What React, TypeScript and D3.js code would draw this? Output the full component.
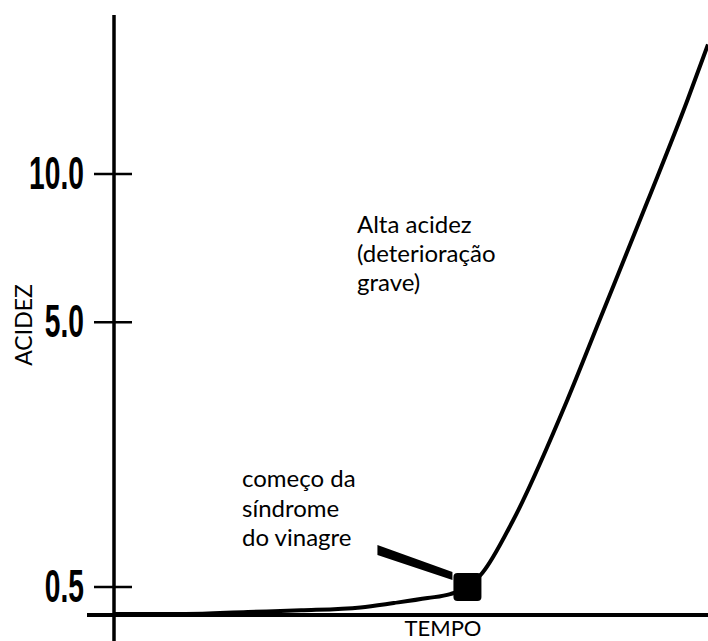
import React from "react";
import * as d3 from "d3";

// curve (time is arbitrary, 0..100 across the plot)
const time = [0, 12, 22.5, 31.5, 41.5, 47.1, 52.8, 56.6, 59.5, 62, 67.2, 76.3, 81.6, 89.9, 96.5, 100];
const acidity = [0.32, 0.32, 0.332, 0.342, 0.36, 0.388, 0.421, 0.449, 0.5, 0.612, 1.15, 3.12, 5.0, 8.98, 13.2, 16.0];

const yTicks = [0.5, 5, 10];
const yTickLabels = ["0.5", "5.0", "10.0"];

// onset of the vinegar syndrome
const onset = { time: 59.5, acidity: 0.5 };

const width = 708;
const height = 641;
const originX = 114;
const originY = 614;

const App = () => {
  const x = d3.scaleLinear().domain([0, 100]).range([originX, width]);
  const y = d3.scalePow().exponent(0.44).domain([0.32, 10]).range([originY, 174]);

  const points = time.map((t, i) => [t, acidity[i]] as [number, number]);
  const line = d3
    .line<[number, number]>()
    .x((d) => x(d[0]))
    .y((d) => y(d[1]))
    .curve(d3.curveMonotoneX);

  const sx = x(onset.time);
  const sy = y(onset.acidity);

  // wedge pointing at the marker
  const wedge = [
    [sx - 90, sy - 42],
    [sx - 90, sy - 32],
    [sx - 15, sy - 7],
    [sx - 15, sy - 15],
  ]
    .map((p) => p.join(","))
    .join(" ");

  const textFont = "Lato, 'Open Sans', sans-serif";

  return (
    <svg
      width={width}
      height={height}
      style={{ position: "absolute", left: 0, top: 0, background: "#fff" }}
    >
      {/* axes */}
      <line x1={originX} x2={originX} y1={15} y2={height} stroke="#000" strokeWidth={3.5} />
      <line x1={87} x2={width} y1={originY + 1} y2={originY + 1} stroke="#000" strokeWidth={4} />

      {yTicks.map((t, i) => (
        <g key={t}>
          <line x1={originX - 20} x2={originX + 18} y1={y(t)} y2={y(t)} stroke="#000" strokeWidth={2.5} />
          <text
            transform={`translate(84,${y(t) + 15}) scale(0.6,1)`}
            textAnchor="end"
            fontFamily="'Liberation Sans', Arial, sans-serif"
            fontWeight="bold"
            fontSize={47}
            fill="#000"
          >
            {yTickLabels[i]}
          </text>
        </g>
      ))}

      <text
        transform="translate(32,325) rotate(-90)"
        textAnchor="middle"
        fontFamily={textFont}
        fontSize={23}
        fill="#000"
      >
        ACIDEZ
      </text>
      <text x={443} y={636} textAnchor="middle" fontFamily={textFont} fontSize={22} fill="#000">
        TEMPO
      </text>

      {/* acidity curve */}
      <path d={line(points) || ""} fill="none" stroke="#000" strokeWidth={4} strokeLinejoin="round" />

      {/* marker + pointer */}
      <rect x={sx - 14} y={sy - 14} width={28} height={28} rx={4} fill="#000" />
      <polygon points={wedge} fill="#000" />

      <text fontFamily={textFont} fontSize={24} fill="#000">
        <tspan x={357} y={233}>Alta acidez</tspan>
        <tspan x={357} y={262}>(deterioração</tspan>
        <tspan x={357} y={291}>grave)</tspan>
      </text>
      <text fontFamily={textFont} fontSize={24} fill="#000">
        <tspan x={242} y={487}>começo da</tspan>
        <tspan x={242} y={517}>síndrome</tspan>
        <tspan x={242} y={546}>do vinagre</tspan>
      </text>
    </svg>
  );
};

export default App;
